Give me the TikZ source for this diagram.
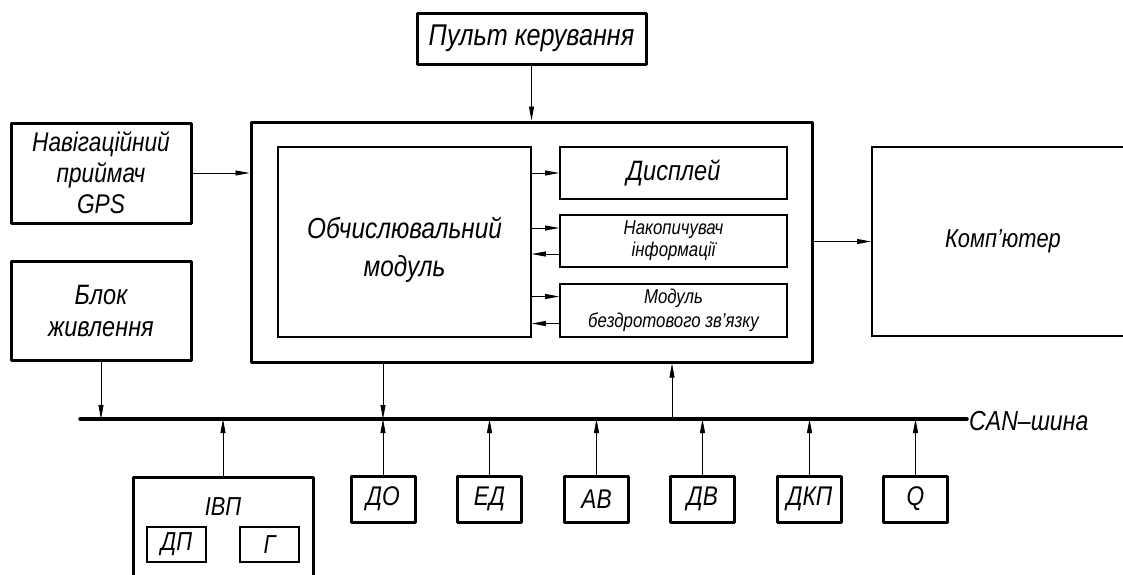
\documentclass[tikz,border=0pt]{standalone}
\usepackage{fontspec}
\setmainfont{Liberation Sans}[FakeStretch=0.84]
\usetikzlibrary{arrows.meta}
\newcommand\fsz[2]{\fontsize{#1}{#2}\selectfont\itshape}
\tikzset{
  thickbox/.style={draw, line width=3pt, line join=round, inner sep=0pt, align=center},
  thinbox/.style={draw, line width=1.8pt, inner sep=0pt, align=center},
  plain/.style={inner sep=0pt, align=center},
  arr/.style={line width=0.8pt, -{Triangle[length=14pt,width=5pt]}},
  busline/.style={line width=3.5pt, line cap=round},
  smallbox/.style={thickbox, minimum width=64pt, minimum height=46pt, font=\fsz{27}{32}},
}
\begin{document}
\begin{tikzpicture}[x=1pt,y=-1pt]
\useasboundingbox (0,0) rectangle (1123,574);
\clip (0,0) rectangle (1123,574);
% top and left blocks
\node[thickbox, minimum width=229pt, minimum height=51pt, font=\fsz{30}{36}] (pult) at (531.5,38.5) {Пульт керування};
\node[thickbox, minimum width=180pt, minimum height=100pt, font=\fsz{27}{31}] (nav) at (101,173) {Навігаційний\\приймач\\GPS};
\node[thickbox, minimum width=180pt, minimum height=99pt, font=\fsz{28}{32}] (blok) at (101,311) {Блок\\живлення};
% main block
\node[thickbox, minimum width=561pt, minimum height=240pt] (main) at (531.5,242) {};
\node[draw, line width=1.5pt, inner sep=0pt, minimum width=253pt, minimum height=190pt] (comp) at (404.5,242) {};
\node[plain, font=\fsz{29}{38}] (comptxt) at (404.5,250) {Обчислювальний\\модуль};
\node[thinbox, minimum width=227pt, minimum height=52pt, font=\fsz{28}{32}] (disp) at (673.5,173) {Дисплей};
\node[thinbox, minimum width=227pt, minimum height=52pt, font=\fsz{20}{22}] (nak) at (673.5,241) {Накопичувач\\інформації};
\node[thinbox, minimum width=227pt, minimum height=53pt, font=\fsz{20}{24}] (modb) at (673.5,310.5) {Модуль\\бездротового зв'язку};
% computer
\node[draw, line width=2pt, inner sep=0pt, minimum width=262pt, minimum height=189pt, font=\fsz{26}{30}] (pc) at (1003,241.5) {Комп'ютер};
% bus
\coordinate (busL) at (80,419);
\coordinate (busR) at (967,419);
\draw[busline] (busL) -- (busR);
\node[plain, anchor=west, font=\fsz{27.5}{34}] (can) at (969,421) {CAN–шина};
% bottom blocks
\node[thickbox, minimum width=180pt, minimum height=123pt] (ivp) at (223,538.5) {};
\node[plain, font=\fsz{26}{30}] (ivptxt) at (223,507) {ІВП};
\node[thinbox, minimum width=59pt, minimum height=35pt, font=\fsz{26}{30}] (dp) at (176.5,544.5) {ДП};
\node[thinbox, minimum width=59pt, minimum height=35pt, font=\fsz{26}{30}] (g) at (269.5,544.5) {Г};
\node[smallbox] (do) at (383,499) {ДО};
\node[smallbox] (ed) at (489.5,499) {ЕД};
\node[smallbox] (av) at (596.5,499) {АВ};
\node[smallbox] (dv) at (702.5,499) {ДВ};
\node[smallbox] (dkp) at (809.5,499) {ДКП};
\node[smallbox] (q) at (915.5,499) {Q};
% connectors
\draw[arr] (pult.south) -- (main.north);
\draw[arr] (nav.east) -- (nav.east -| main.west);
\draw[arr] (main.east |- pc.west) -- (pc.west);
\draw[arr] (disp.west -| comp.east) -- (disp.west);
\draw[arr] ([yshift=13pt]nak.west -| comp.east) -- ([yshift=13pt]nak.west);
\draw[arr] ([yshift=-13pt]nak.west) -- ([yshift=-13pt]nak.west -| comp.east);
\draw[arr] ([yshift=14pt]modb.west -| comp.east) -- ([yshift=14pt]modb.west);
\draw[arr] ([yshift=-13pt]modb.west) -- ([yshift=-13pt]modb.west -| comp.east);
\draw[arr] (blok.south) -- (blok.south |- busL);
\draw[arr] (main.south -| do.north) -- (do.north |- busL);
\coordinate (upc) at (672,419);
\draw[arr] (upc) -- (upc |- main.south);
\foreach \b in {ivp,do,ed,av,dv,dkp,q}
  \draw[arr] (\b.north) -- (\b.north |- busL);
\end{tikzpicture}
\end{document}
